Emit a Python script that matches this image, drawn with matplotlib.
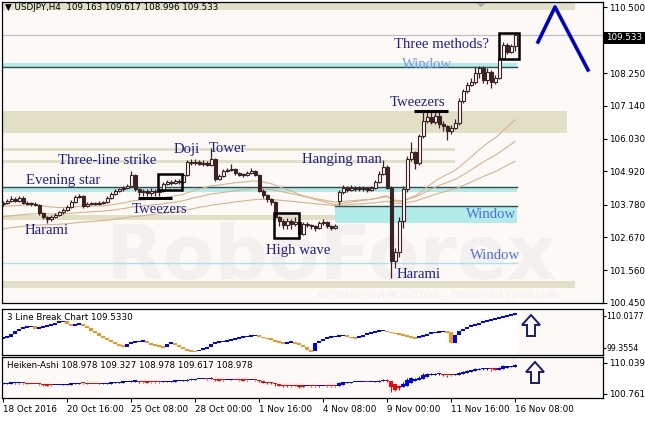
import matplotlib
matplotlib.use('Agg')
import matplotlib.pyplot as plt
import numpy as np
from matplotlib.patches import Rectangle, Polygon

# ---------------- data ----------------
date_labels = ['18 Oct 2016', '20 Oct 16:00', '25 Oct 08:00', '28 Oct 00:00', '1 Nov 16:00',
               '4 Nov 08:00', '9 Nov 00:00', '11 Nov 16:00', '16 Nov 08:00']

opens = [103.80, 103.85, 103.92, 103.98, 103.90, 104.02, 103.84, 103.80, 103.82, 103.78,
         103.50, 103.36, 103.28, 103.36, 103.44, 103.52, 103.60, 103.70, 103.88, 104.04,
         104.08, 103.74, 103.80, 103.83, 103.80, 103.84, 103.88, 104.00, 104.14, 104.24,
         104.30, 104.36, 104.42, 104.78, 104.32, 104.20, 104.24, 104.18, 104.26, 104.20,
         104.24, 104.50, 104.56, 104.52, 104.60, 104.56, 104.80, 105.22, 105.20, 105.24,
         105.18, 105.20, 105.14, 105.32, 104.66, 104.76, 104.92, 104.96, 105.00, 104.86,
         104.80, 104.78, 104.86, 104.92, 104.80, 104.26, 104.10, 103.96, 103.86, 103.36,
         103.24, 103.10, 103.24, 103.14, 103.20, 102.80, 103.14, 103.10, 103.04, 102.98,
         103.16, 103.20, 103.06, 102.98, 103.90, 104.22, 104.34, 104.28, 104.36, 104.32,
         104.30, 104.34, 104.28, 104.36, 104.56, 104.84, 105.06, 104.36, 101.86, 102.16,
         103.24, 104.30, 105.34, 105.56, 105.20, 106.10, 106.64, 106.76, 106.60, 106.80,
         106.52, 106.44, 106.28, 106.40, 106.56, 107.30, 107.64, 107.86, 107.96, 108.24,
         108.42, 108.02, 108.30, 107.96, 108.10, 108.76, 109.22, 108.96, 109.163]

closes = [103.85, 103.92, 103.98, 103.90, 104.02, 103.84, 103.80, 103.82, 103.78, 103.50,
          103.36, 103.28, 103.36, 103.44, 103.52, 103.60, 103.70, 103.88, 104.04, 104.08,
          103.74, 103.80, 103.83, 103.80, 103.84, 103.88, 104.00, 104.14, 104.24, 104.30,
          104.36, 104.42, 104.78, 104.32, 104.20, 104.24, 104.18, 104.26, 104.20, 104.24,
          104.50, 104.56, 104.52, 104.60, 104.56, 104.80, 105.22, 105.20, 105.24, 105.18,
          105.20, 105.14, 105.32, 104.66, 104.76, 104.92, 104.96, 105.00, 104.86, 104.80,
          104.78, 104.86, 104.92, 104.80, 104.26, 104.10, 103.96, 103.86, 103.36, 103.24,
          103.10, 103.24, 103.14, 103.20, 102.80, 103.14, 103.10, 103.04, 102.98, 103.16,
          103.20, 103.06, 102.98, 103.06, 104.22, 104.34, 104.28, 104.36, 104.32, 104.30,
          104.34, 104.28, 104.36, 104.56, 104.84, 105.06, 104.36, 101.86, 102.16, 103.24,
          104.30, 105.34, 105.56, 105.20, 106.10, 106.64, 106.76, 106.60, 106.80, 106.52,
          106.44, 106.28, 106.40, 106.56, 107.30, 107.64, 107.86, 107.96, 108.24, 108.42,
          108.02, 108.30, 107.96, 108.10, 108.76, 109.22, 108.96, 109.16, 109.533]

highs = [103.92, 103.98, 104.06, 104.04, 104.08, 104.06, 103.90, 103.88, 103.86, 103.82,
         103.54, 103.40, 103.42, 103.50, 103.58, 103.66, 103.76, 103.94, 104.12, 104.14,
         104.12, 103.86, 103.88, 103.88, 103.90, 103.92, 104.06, 104.20, 104.30, 104.36,
         104.42, 104.48, 104.92, 104.84, 104.36, 104.32, 104.30, 104.34, 104.30, 104.30,
         104.56, 104.62, 104.62, 104.66, 104.64, 104.86, 105.30, 105.32, 105.34, 105.30,
         105.30, 105.26, 105.70, 105.36, 104.84, 104.98, 105.04, 105.16, 105.04, 104.90,
         104.86, 104.92, 105.04, 104.96, 104.84, 104.30, 104.14, 104.00, 103.90, 103.40,
         103.28, 103.34, 103.30, 103.36, 103.24, 103.20, 103.18, 103.14, 103.10, 103.22,
         103.30, 103.24, 103.10, 103.14, 104.28, 104.46, 104.42, 104.44, 104.42, 104.40,
         104.42, 104.38, 104.42, 104.62, 104.92, 105.30, 105.12, 104.40, 102.30, 103.36,
         104.40, 105.44, 105.90, 105.62, 106.20, 106.98, 106.96, 106.96, 106.98, 106.94,
         106.62, 106.50, 106.48, 106.68, 107.40, 107.72, 107.96, 108.08, 108.46, 108.50,
         108.48, 108.44, 108.36, 108.20, 108.86, 109.32, 109.28, 109.24, 109.617]

lows = [103.74, 103.80, 103.88, 103.86, 103.86, 103.80, 103.76, 103.74, 103.72, 103.44,
        103.28, 103.16, 103.22, 103.32, 103.40, 103.48, 103.56, 103.66, 103.84, 104.00,
        103.68, 103.70, 103.76, 103.76, 103.76, 103.80, 103.84, 103.96, 104.10, 104.20,
        104.26, 104.32, 104.38, 104.24, 104.06, 104.06, 104.06, 104.06, 104.08, 104.06,
        104.20, 104.44, 104.46, 104.48, 104.50, 104.52, 104.76, 105.12, 105.14, 105.12,
        105.10, 105.08, 105.10, 104.60, 104.62, 104.72, 104.88, 104.92, 104.80, 104.74,
        104.72, 104.74, 104.82, 104.74, 104.20, 104.02, 103.86, 103.78, 103.30, 103.04,
        102.96, 102.94, 102.96, 103.04, 102.62, 102.74, 103.02, 102.96, 102.90, 102.94,
        103.10, 102.98, 102.92, 102.94, 103.76, 104.16, 104.22, 104.24, 104.26, 104.24,
        104.26, 104.22, 104.24, 104.32, 104.52, 104.80, 104.30, 101.30, 101.62, 102.02,
        103.00, 104.20, 105.26, 105.00, 105.14, 106.04, 106.56, 106.52, 106.54, 106.40,
        106.28, 105.98, 106.20, 106.34, 106.50, 107.24, 107.58, 107.80, 107.90, 108.10,
        107.92, 107.90, 107.76, 107.90, 108.04, 108.70, 108.90, 108.92, 108.996]

# moving-average starting levels read at the left edge
ma_spans = [45, 72, 115]
ma_seeds = [103.72, 103.36, 102.95]

# 3 Line Break indicator levels (one per bar)
line_break = [102.69, 103.02, 104.02, 105.02, 105.69, 106.02, 106.35, 106.52, 105.69, 106.02,
              106.35, 106.69, 107.02, 107.69, 108.02, 108.19, 107.35, 106.69, 107.02, 107.35,
              106.69, 106.02, 105.02, 104.35, 103.35, 102.69, 102.02, 101.35, 100.69, 100.35,
              99.69, 100.69, 101.02, 101.35, 101.52, 101.69, 101.02, 100.69, 100.35, 100.02,
              99.69, 100.69, 101.02, 100.35, 99.69, 99.02, 98.69, 98.36, 98.19, 98.69,
              99.02, 99.69, 100.69, 101.02, 101.35, 101.52, 101.69, 102.02, 102.35, 102.69,
              103.02, 103.19, 103.35, 103.52, 103.02, 102.85, 102.52, 102.02, 101.69, 101.35,
              100.69, 101.02, 101.35, 101.02, 100.35, 99.69, 98.69, 98.36, 101.02, 101.69,
              102.35, 102.69, 103.02, 103.19, 103.35, 103.52, 103.02, 102.85, 102.69, 103.02,
              103.69, 104.02, 104.35, 104.69, 105.02, 105.19, 104.85, 104.35, 104.19, 104.02,
              103.69, 103.35, 103.02, 102.69, 103.02, 103.35, 104.02, 104.35, 104.52, 104.69,
              104.85, 104.69, 101.02, 103.69, 105.02, 105.69, 106.35, 106.69, 107.02, 107.69,
              108.02, 108.35, 108.69, 109.02, 109.35, 109.68, 110.02, 110.35, 110.68]

price_ticks = [110.500, 109.390, 108.250, 107.140, 106.030, 104.920, 103.780, 102.670, 101.560, 100.450]
lb_ticks = [110.0177, 99.3554]
ha_ticks = [110.039, 100.761]

# support / resistance zones: (x_end_bar, low, high)
khaki_zones = [(143, 110.40, 110.70), (141, 106.22, 106.97), (113, 105.61, 105.71),
               (113, 105.20, 105.30), (83, 103.27, 103.44), (143, 100.96, 101.20)]
cyan_zones = [(-0.25, 128.5, 108.46, 108.60, 'bottom'), (-0.25, 128.5, 104.22, 104.39, 'top'),
              (83, 128.5, 103.17, 103.74, 'top')]
window_line = 101.81
last_price = 109.533

zigzag_x = [133.75, 138.0, 146.25]
zigzag_y = [109.31, 110.50, 108.36]

labels = [("Three methods?", 109.75, 109.24, 'navy'), ("Window", 106.0, 108.53, 'light'),
          ("Tweezers", 103.75, 107.24, 'navy'), ("Hanging man", 84.75, 105.31, 'navy'),
          ("Doji", 46.0, 105.65, 'navy'), ("Tower", 56.0, 105.68, 'navy'),
          ("Three-line strike", 26.0, 105.27, 'navy'), ("Evening star", 15.0, 104.59, 'navy'),
          ("Tweezers", 39.0, 103.61, 'navy'), ("Harami", 11.0, 102.90, 'navy'),
          ("High wave", 73.75, 102.22, 'navy'), ("Window", 122.0, 103.44, 'blue'),
          ("Window", 123.0, 102.05, 'blue'), ("Harami", 104.0, 101.40, 'navy')]
boxes = [(38.75, 44.75, 104.29, 104.83), (67.75, 74.0, 102.66, 103.51), (124.0, 129.0, 108.74, 109.62)]
underlines = [(33.75, 42.25, 104.02), (102.75, 111.25, 106.97)]

# ---------------- figure ----------------
W, H = 645, 421
fig = plt.figure(figsize=(6.45, 4.21), dpi=100)
fig.patch.set_facecolor('white')
BG = '#fdf9f7'
CANDLE = '#3c2222'
TFONT = 6.3


def fx(px):
    return px / W


def fy(py):
    return 1 - py / H


def axes_px(x0, y0, x1, y1, lsize=TFONT, pad=1.5, length=3):
    a = fig.add_axes([fx(x0), fy(y1), (x1 - x0) / W, (y1 - y0) / H])
    a.set_facecolor(BG)
    a.set_xlim(-0.25, 150)
    a.yaxis.tick_right()
    a.tick_params(axis='y', labelsize=lsize, length=length, pad=pad, direction='out', width=0.8)
    a.tick_params(axis='x', bottom=False, labelbottom=False)
    for s in a.spines.values():
        s.set_color('black')
        s.set_linewidth(0.9)
    return a


ax = axes_px(2, 2, 603, 303)
ax2 = axes_px(2, 309, 603, 355, lsize=5.7, pad=0.6, length=2)
ax3 = axes_px(2, 357, 603, 398)

O = np.array(opens); C = np.array(closes); Hh = np.array(highs); Ll = np.array(lows)
n = len(C)
x = np.arange(n)

# main panel
ax.set_ylim(100.44, 110.67)
ax.set_yticks(price_ticks)
ax.set_yticklabels([f'{v:.3f}' for v in price_ticks])

for xe, lo, hi in khaki_zones:
    ax.add_patch(Rectangle((-0.25, lo), xe + 0.25, hi - lo, facecolor='#e1dfc5', edgecolor='none', zorder=1))
for xs, xe, lo, hi, edge in cyan_zones:
    ax.add_patch(Rectangle((xs, lo), xe - xs, hi - lo, facecolor='#b1ebea', edgecolor='none', zorder=1.1))
    yl = lo if edge == 'bottom' else hi
    ax.plot([xs, xe], [yl, yl], color='#2f4f4f', lw=1.0, zorder=1.2)
ax.plot([-0.25, 128.5], [window_line, window_line], color='#a8e4e6', lw=1.0, zorder=1.2)
ax.axhline(last_price, color='#c0c0c0', lw=0.9, zorder=1.2)

ax.text(82, 101.95, 'RoboForex', fontsize=54, fontweight='bold', color='#f3f0ef',
        ha='center', va='center', zorder=0.9, family='DejaVu Sans')
ax.text(109, 100.68, 'ИСПОЛЬЗУЙ РОБОТОВ – ПОЛУЧАЙ ПРИБЫЛЬ', fontsize=7.5, color='#f3f0ef',
        ha='center', va='center', zorder=0.9, family='DejaVu Sans')

# moving averages
for span, seed in zip(ma_spans, ma_seeds):
    alpha = 2.0 / (span + 1)
    vals = np.empty(n)
    prev = seed
    for i in range(n):
        prev = prev + alpha * (C[i] - prev)
        vals[i] = prev
    ax.plot(x, vals, color='#d7b48c', lw=0.8, zorder=2)

# candles
ax.vlines(x, Ll, Hh, color=CANDLE, lw=0.9, zorder=3)
up = C >= O
bot = np.minimum(O, C)
hgt = np.maximum(np.abs(C - O), 0.035)
ax.bar(x[up], hgt[up], bottom=bot[up], width=0.75, facecolor=BG, edgecolor=CANDLE, lw=0.8, zorder=4)
ax.bar(x[~up], hgt[~up], bottom=bot[~up], width=0.75, facecolor=CANDLE, edgecolor=CANDLE, lw=0.8, zorder=4)

# pattern markup
for x0, x1, lo, hi in boxes:
    ax.add_patch(Rectangle((x0, lo), x1 - x0, hi - lo, fill=False, edgecolor='black', lw=1.8, zorder=6))
for x0, x1, yv in underlines:
    ax.plot([x0, x1], [yv, yv], color='black', lw=2.2, zorder=6, solid_capstyle='butt')
ax.plot(zigzag_x, zigzag_y, color='#0000cc', lw=2.6, zorder=6)

colmap = {'navy': '#1f1f8f', 'blue': '#4f6fe0', 'light': '#7a96ea'}
for txt, tx, ty, c in labels:
    ax.text(tx, ty, txt, fontsize=10.6, color=colmap[c], family='Liberation Serif',
            ha='center', va='center', zorder=7)

# 3 Line Break panel
ax2.set_ylim(97.02, 112.35)
ax2.set_yticks(lb_ticks)
ax2.set_yticklabels(['110.0177', '99.3554'])
ax2.add_patch(Rectangle((-0.25, 97.02), 128.75, 15.33, facecolor='white', edgecolor='none', zorder=0.5))
lb = np.array(line_break)
prev_lb = np.concatenate([[lb[0]], lb[:-1]])
diff = lb - prev_lb
lb_col = np.where(diff >= 0, '#0000ff', '#f7941d')
small = np.abs(diff) < 0.4
lb_bot = np.where(diff >= 0, prev_lb, lb)
lb_h = np.where(small, 0.36, np.abs(diff))
lb_bot = np.where(small, lb - 0.18, lb_bot)
ax2.bar(x, lb_h, bottom=lb_bot, width=0.85, color=lb_col, zorder=2)

# Heiken-Ashi panel
ax3.set_ylim(99.56, 111.83)
ax3.set_yticks(ha_ticks)
ax3.set_yticklabels(['110.039', '100.761'])
ha_c = (O + Hh + Ll + C) / 4
ha_o = np.empty(n)
ha_o[0] = (O[0] + C[0]) / 2
for i in range(1, n):
    ha_o[i] = (ha_o[i - 1] + ha_c[i - 1]) / 2
ha_h = np.maximum.reduce([Hh, ha_o, ha_c])
ha_l = np.minimum.reduce([Ll, ha_o, ha_c])
ha_col = np.where(ha_c >= ha_o, '#0000ff', '#ff0000')
ax3.vlines(x, ha_l, ha_h, colors=ha_col, lw=0.7, zorder=2)
hb = np.minimum(ha_o, ha_c)
hh = np.maximum(np.abs(ha_c - ha_o), 0.35)
ax3.bar(x, hh, bottom=hb, width=0.8, color=ha_col, zorder=3)

ax3.set_xticks(np.arange(0, n, 16))
ax3.set_xticklabels(date_labels)
ax3.tick_params(axis='x', bottom=True, labelbottom=True, length=3, pad=2, labelsize=TFONT, width=0.8)
for lbl in ax3.get_xticklabels():
    lbl.set_ha('left')

# header and panel titles
fig.text(fx(5), fy(7), '▼ USDJPY,H4  109.163 109.617 108.996 109.533', fontsize=TFONT,
         va='center', ha='left', family='DejaVu Sans')
fig.text(fx(7), fy(318), '3 Line Break Chart 109.5330', fontsize=TFONT, va='center', ha='left')
fig.text(fx(7), fy(366), 'Heiken-Ashi 108.978 109.327 108.978 109.617 108.978', fontsize=TFONT,
         va='center', ha='left')

# last price tag
fig.patches.append(Rectangle((fx(603), fy(44)), 42 / W, 12 / H, transform=fig.transFigure,
                             facecolor='black', edgecolor='none', zorder=5))
fig.text(fx(606), fy(38), f'{last_price:.3f}', fontsize=TFONT, color='white', va='center',
         ha='left', zorder=6)

# shift marker at top
fig.patches.append(Polygon([(fx(476), fy(3)), (fx(486), fy(3)), (fx(481), fy(7))],
                           transform=fig.transFigure, facecolor='#a8a8a8', edgecolor='none', zorder=5))


def up_arrow(cx, ytop):
    pts = [(cx, ytop), (cx + 9, ytop + 10), (cx + 4, ytop + 10), (cx + 4, ytop + 21),
           (cx - 4, ytop + 21), (cx - 4, ytop + 10), (cx - 9, ytop + 10)]
    fig.patches.append(Polygon([(fx(a), fy(b)) for a, b in pts], transform=fig.transFigure,
                               facecolor='#fbf7fb', edgecolor='#1a1a6e', lw=1.4, zorder=5))


up_arrow(531, 315)
up_arrow(535, 362)

fig.savefig('out.png', dpi=100, facecolor=fig.get_facecolor())
